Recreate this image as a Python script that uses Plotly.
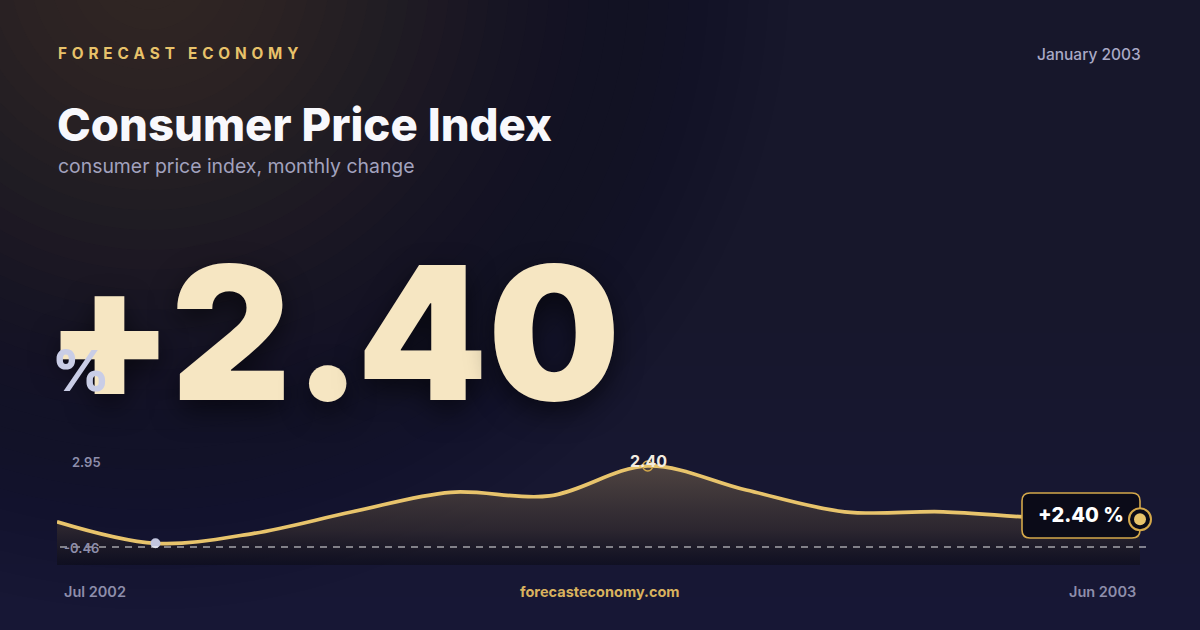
import math
import plotly.graph_objects as go

# ---------------- data ----------------
months = ["Jul 2002", "Aug 2002", "Sep 2002", "Oct 2002", "Nov 2002", "Dec 2002",
          "Jan 2003", "Feb 2003", "Mar 2003", "Apr 2003", "May 2003", "Jun 2003"]
cpi = [0.49, -0.46, -0.02, 0.93, 1.79, 1.63, 2.95, 1.89, 0.93, 0.93, 0.66, 0.60]
headline_value = 2.40
brand = "FORECAST ECONOMY"
date_label = "January 2003"
title = "Consumer Price Index"
subtitle = "consumer price index, monthly change"
site = "forecasteconomy.com"

W, H = 1200, 630
GOLD = "#e8c46c"
MUTED = "#8e8eab"


def X(px):
    return px / W


def Y(py):
    return 1 - py / H


ymin_v, ymax_v = min(cpi), max(cpi)
i_min, i_max = cpi.index(ymin_v), cpi.index(ymax_v)
n = len(months)
span = ymax_v - ymin_v
unit = 77.3 / span  # px per unit
r_lo = ymin_v - 21.7 / unit
PX0, PX1, PXR = 57, 1140, 1165
x_hi = (n - 1) * (PXR - PX0) / (PX1 - PX0)

fig = go.Figure()

# base for fill
fig.add_trace(go.Scatter(x=list(range(n)), y=[r_lo] * n, mode="lines", line=dict(width=0),
                         hoverinfo="skip", showlegend=False))
# area + line
fig.add_trace(go.Scatter(
    x=list(range(n)), y=cpi, mode="lines",
    line=dict(color=GOLD, width=3.7, shape="spline", smoothing=1.0),
    fill="tonexty",
    fillgradient=dict(type="vertical", start=r_lo, stop=ymax_v,
                      colorscale=[[0, "rgba(8,8,14,0.45)"], [0.35, "rgba(60,50,45,0.55)"],
                                  [1, "rgba(116,98,76,0.6)"]]),
    hoverinfo="skip", showlegend=False))
# min marker
fig.add_trace(go.Scatter(x=[i_min], y=[ymin_v], mode="markers",
                         marker=dict(size=10, color="#c3c6df"), showlegend=False, hoverinfo="skip"))
# peak marker (hollow)
fig.add_trace(go.Scatter(x=[i_max], y=[ymax_v], mode="markers",
                         marker=dict(size=10, color="rgba(0,0,0,0)", line=dict(color="#d4a84a", width=1.5)),
                         showlegend=False, hoverinfo="skip"))

shapes = []
# bottom bluish tint
for k in range(10):
    top = 300 + k * 33
    shapes.append(dict(type="rect", xref="paper", yref="paper", layer="below",
                       x0=0, x1=1, y0=-0.05, y1=Y(top),
                       fillcolor="rgba(34,34,72,0.05)", line=dict(width=0)))
# background glow (stacked circles approximating a radial gradient)
cx, cy = 150, -30
radii = [20 * k for k in range(1, 33)]


def glow_A(d):
    return 0.5 * math.exp(-(d / 310.0) ** 2)


for k in range(len(radii) - 1, -1, -1):
    R = radii[k]
    Rin = radii[k - 1] if k > 0 else 0
    a = 1 - (1 - glow_A(Rin)) / (1 - glow_A(R))
    shapes.append(dict(type="circle", xref="paper", yref="paper", layer="below",
                       x0=X(cx - R), x1=X(cx + R), y0=Y(cy + R), y1=Y(cy - R),
                       fillcolor=f"rgba(96,78,50,{a:.4f})", line=dict(width=0)))
# dashed reference line
shapes.append(dict(type="line", xref="paper", yref="paper", layer="above",
                   x0=X(60), x1=X(1146), y0=Y(547), y1=Y(547),
                   line=dict(color="rgba(255,255,255,0.9)", width=1.2, dash="7px,6px")))
# value box (rounded)
bx0, bx1, bt, bb = X(1022), X(1140), Y(493), Y(538)
rx, ry = 8 / W, 8 / H
path = (f"M {bx0+rx},{bt} L {bx1-rx},{bt} Q {bx1},{bt} {bx1},{bt-ry} "
        f"L {bx1},{bb+ry} Q {bx1},{bb} {bx1-rx},{bb} L {bx0+rx},{bb} "
        f"Q {bx0},{bb} {bx0},{bb+ry} L {bx0},{bt-ry} Q {bx0},{bt} {bx0+rx},{bt} Z")
shapes.append(dict(type="path", xref="paper", yref="paper", layer="above", path=path,
                   fillcolor="#0b0b18", line=dict(color="#d4a84a", width=1.6)))
# end ring marker anchored to the last data point
for rad, fc, lw in [(11, "#0b0b18", 2), (6, GOLD, 0)]:
    shapes.append(dict(type="circle", xref="x", yref="y", layer="above",
                       xsizemode="pixel", ysizemode="pixel",
                       xanchor=n - 1, yanchor=cpi[-1],
                       x0=-rad, x1=rad, y0=-rad, y1=rad,
                       fillcolor=fc, line=dict(color="#d4a84a", width=lw)))

ann = []


def text(t, x, y, size, color, weight=400, xanchor="left", yanchor="middle", family="Inter", shadow=None):
    f = dict(family=family, size=size, color=color, weight=weight)
    if shadow:
        f["shadow"] = shadow
    ann.append(dict(text=t, x=X(x), y=Y(y), xref="paper", yref="paper", showarrow=False,
                    xanchor=xanchor, yanchor=yanchor, font=f))


spaced = " \u200a".join(list(brand))
text(spaced, 56, 53, 15.3, "#e8c26a", 700)
text(date_label, 1143, 54, 15.5, "#a9a9c6", 500, xanchor="right")
text(title, 55, 125, 45.5, "#f8f8fc", 800)
text(subtitle, 56, 166, 19.4, "#a2a2be", 400)

# headline number, set glyph by glyph for tight tracking
headline = f"+{headline_value:.2f}"
glyph_centres = [110, 231, 327, 422, 554]
for ch, gx in zip(headline, glyph_centres):
    text(ch, gx, 332, 186, "#f6e6c2", 900, xanchor="center",
         shadow="0px 10px 28px rgba(0,0,0,0.55)")
text("%", 50, 371, 56, "#c9cde6", 800)

text(f"{ymax_v:.2f}", 70, 462, 13, MUTED, 600)
text(f"{ymin_v:.2f}", 62, 548, 13, MUTED, 600)
text(f"{headline_value:.2f}", 648, 461, 16, "#f3ece0", 700, xanchor="center")
text(f"+{headline_value:.2f} %", 1081, 515, 20, "#ffffff", 800, xanchor="center")
text(months[0], 62, 591, 14.5, MUTED, 600)
text(site, 600, 591, 14.5, "#d9b25e", 700, xanchor="center")
text(months[-1], 1138, 591, 14.5, MUTED, 600, xanchor="right")

fig.update_layout(
    width=W, height=H, margin=dict(l=0, r=0, t=0, b=0),
    paper_bgcolor="#17172b", plot_bgcolor="rgba(0,0,0,0)",
    xaxis=dict(domain=[X(PX0), X(PXR)], range=[0, x_hi], visible=False, fixedrange=True),
    yaxis=dict(domain=[Y(565), Y(430)], range=[r_lo, r_lo + (565 - 430) / unit], visible=False, fixedrange=True),
    shapes=shapes, annotations=ann, showlegend=False,
)

fig.write_html("out.html", config={"displayModeBar": False},
               post_script="document.body.style.margin='0';document.body.style.overflow='hidden';")
